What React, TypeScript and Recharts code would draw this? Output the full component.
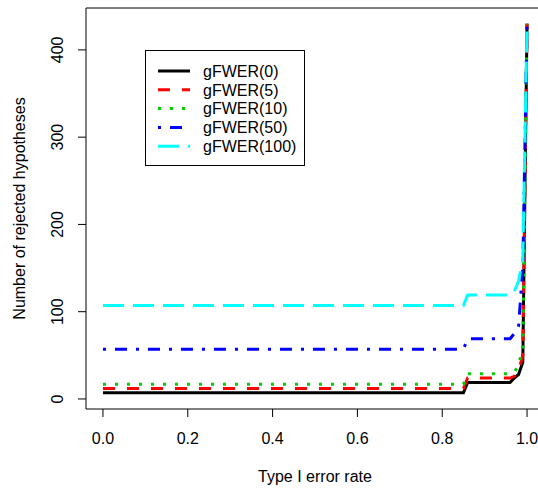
import React from "react";
import { Label, Legend, Line, LineChart, ReferenceArea, XAxis, YAxis } from "recharts";

// alpha levels (x) and number of rejected hypotheses for each gFWER(k)
const alphaLevels = [0, 0.85, 0.86, 0.96, 0.97, 0.98, 0.99, 1.0];
const gfwer0 = [7, 7, 19, 19, 24, 28, 42, 430];
const gfwer5 = [12, 12, 24, 24, 26, 32, 50, 430];
const gfwer10 = [17, 17, 29, 29, 31, 38, 60, 430];
const gfwer50 = [57, 57, 69, 69, 75, 83, 150, 430];
const gfwer100 = [107, 107, 119, 119, 123, 135, 160, 430];

const xTicks = [0, 0.2, 0.4, 0.6, 0.8, 1.0];
const yTicks = [0, 100, 200, 300, 400];

const series = [
  { key: "g0", name: "gFWER(0)", color: "#000000", dash: undefined },
  { key: "g5", name: "gFWER(5)", color: "#FF0000", dash: "12 12" },
  { key: "g10", name: "gFWER(10)", color: "#00CD00", dash: "3 9" },
  { key: "g50", name: "gFWER(50)", color: "#0000FF", dash: "3 9 12 9" },
  { key: "g100", name: "gFWER(100)", color: "#00FFFF", dash: "21 9" },
];

const data = alphaLevels.map((a, i) => ({
  alpha: a,
  g0: gfwer0[i],
  g5: gfwer5[i],
  g10: gfwer10[i],
  g50: gfwer50[i],
  g100: gfwer100[i],
}));

const FONT = "'Liberation Sans', Arial, Helvetica, sans-serif";

const YTick = (props: any) => {
  const { x, y, payload } = props;
  const tx = x - 12.5;
  return (
    <text
      x={tx}
      y={y}
      transform={`rotate(-90, ${tx}, ${y})`}
      textAnchor="middle"
      fontSize={16}
      fontFamily={FONT}
      fill="#000"
    >
      {payload.value}
    </text>
  );
};

const XTick = (props: any) => {
  const { x, y, payload } = props;
  return (
    <text x={x} y={y + 25} textAnchor="middle" fontSize={16} fontFamily={FONT} fill="#000">
      {Number(payload.value).toFixed(1)}
    </text>
  );
};

const LegendBox = () => (
  <svg width={160} height={116} style={{ display: "block" }}>
    <rect x={0.5} y={0.5} width={159} height={115} fill="#fff" stroke="#000" />
    {series.map((s, i) => {
      const cy = 21 + i * 18.8;
      return (
        <g key={s.key}>
          <line
            x1={13}
            x2={45}
            y1={cy}
            y2={cy}
            stroke={s.color}
            strokeWidth={3}
            strokeDasharray={s.dash}
          />
          <text x={58} y={cy + 5.7} fontSize={16} fontFamily={FONT} fill="#000">
            {s.name}
          </text>
        </g>
      );
    })}
  </svg>
);

export default function App() {
  return (
    <div style={{ position: "absolute", left: 0, top: 0, width: 538, height: 488, overflow: "hidden", background: "#fff" }}>
      <LineChart
        width={538}
        height={488}
        data={data}
        margin={{ top: 8, right: -6, left: 0, bottom: 0 }}
        style={{ fontFamily: FONT }}
      >
        <XAxis
          dataKey="alpha"
          type="number"
          domain={[-0.04, 1.04]}
          ticks={xTicks}
          allowDataOverflow
          height={79}
          tickSize={8}
          axisLine={false}
          tickLine={{ stroke: "#000" }}
          tick={<XTick />}
        >
          <Label
            content={(p: any) => {
              const vb = p.viewBox || { x: 86, y: 409, width: 458 };
              return (
                <text x={vb.x + vb.width / 2} y={vb.y + 73} textAnchor="middle" fontSize={16} fontFamily={FONT} fill="#000">
                  Type I error rate
                </text>
              );
            }}
          />
        </XAxis>
        <YAxis
          type="number"
          domain={[-11.5, 448]}
          ticks={yTicks}
          allowDataOverflow
          width={86}
          tickSize={8}
          axisLine={false}
          tickLine={{ stroke: "#000" }}
          tick={<YTick />}
        >
          <Label
            content={(p: any) => {
              const vb = p.viewBox || { x: 0, y: 8, height: 401 };
              const cx = vb.x + 24.5;
              const cy = vb.y + vb.height / 2;
              return (
                <text
                  x={cx}
                  y={cy}
                  transform={`rotate(-90, ${cx}, ${cy})`}
                  textAnchor="middle"
                  fontSize={16}
                  fontFamily={FONT}
                  fill="#000"
                >
                  Number of rejected hypotheses
                </text>
              );
            }}
          />
        </YAxis>
        <ReferenceArea x1={-0.04} x2={1.04} y1={-11.5} y2={448} fill="none" stroke="#000" strokeWidth={1} />
        {series.map((s) => (
          <Line
            key={s.key}
            type="linear"
            dataKey={s.key}
            name={s.name}
            stroke={s.color}
            strokeWidth={3}
            strokeDasharray={s.dash}
            dot={false}
            activeDot={false}
            isAnimationActive={false}
          />
        ))}
        <Legend
          layout="vertical"
          align="center"
          verticalAlign="middle"
          width={160}
          height={116}
          wrapperStyle={{ left: 145, top: 50, width: 160, height: 116 }}
          content={() => <LegendBox />}
        />
      </LineChart>
    </div>
  );
}
